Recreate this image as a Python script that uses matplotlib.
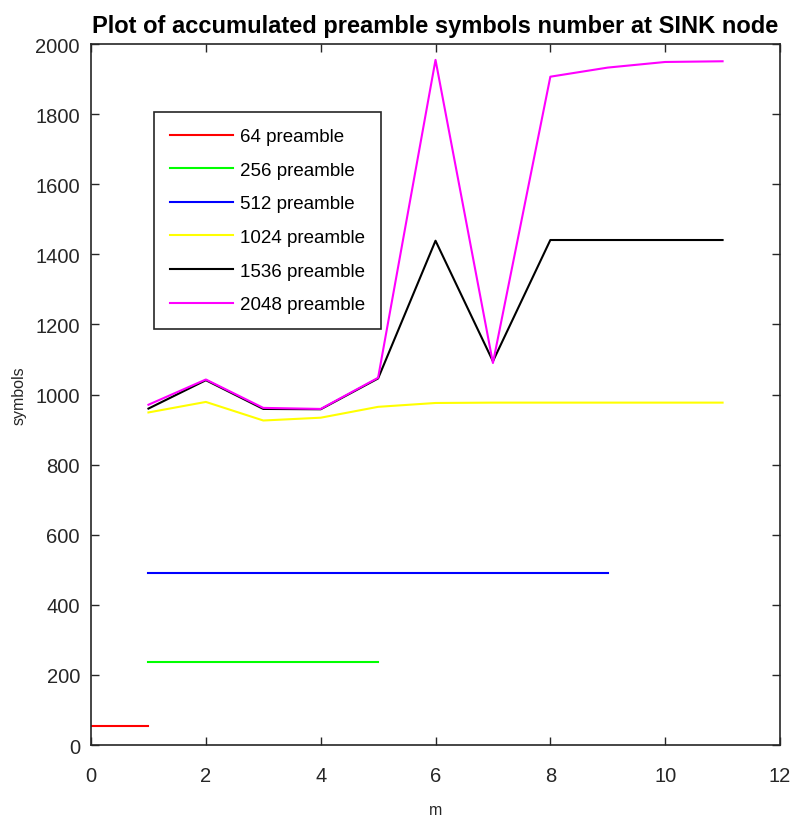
import matplotlib
matplotlib.use('Agg')
import matplotlib.pyplot as plt
from matplotlib import font_manager

# pick a narrow font if one is installed
names = {f.name for f in font_manager.fontManager.ttflist}
narrow = 'Liberation Sans Narrow' if 'Liberation Sans Narrow' in names else 'Liberation Sans'

m_64 = [0, 1]
v_64 = [55, 55]
m_256 = [1, 2, 3, 4, 5]
v_256 = [236, 236, 236, 236, 236]
m_512 = [1, 2, 3, 4, 5, 6, 7, 8, 9]
v_512 = [491, 491, 491, 491, 491, 491, 491, 491, 491]
m_long = [1, 2, 3, 4, 5, 6, 7, 8, 9, 10, 11]
v_1024 = [949, 979, 926, 934, 965, 976, 977, 977, 977, 977, 977]
v_1536 = [960, 1041, 959, 958, 1046, 1439, 1095, 1441, 1441, 1441, 1441]
v_2048 = [971, 1043, 962, 959, 1048, 1955, 1090, 1907, 1933, 1949, 1951]

series = [
    (m_64, v_64, '#ff0000', '64 preamble'),
    (m_256, v_256, '#00ff00', '256 preamble'),
    (m_512, v_512, '#0000ff', '512 preamble'),
    (m_long, v_1024, '#ffff00', '1024 preamble'),
    (m_long, v_1536, '#000000', '1536 preamble'),
    (m_long, v_2048, '#ff00ff', '2048 preamble'),
]

fig = plt.figure(figsize=(7.93, 8.2), dpi=100)
ax = fig.add_axes([0.1148, 0.0902, 0.8688, 0.8548])

for xs, ys, c, lab in series:
    ax.plot(xs, ys, color=c, lw=1.5, label=lab)

ax.set_xlim(0, 12)
ax.set_ylim(0, 2000)
ax.set_xticks(range(0, 13, 2))
ax.set_yticks(range(0, 2001, 200))
ax.tick_params(direction='in', top=True, right=True, length=6, width=1,
               labelsize=14.5, colors='#262626')
ax.tick_params(axis='x', pad=15)
ax.tick_params(axis='y', pad=8)
for lbl in ax.get_xticklabels() + ax.get_yticklabels():
    lbl.set_fontfamily(narrow)
for s in ax.spines.values():
    s.set_color('#262626')
    s.set_linewidth(1.2)

ax.set_xlabel('m', fontsize=11.5, family='Liberation Sans', color='#262626', labelpad=12)
ax.set_ylabel('symbols', fontsize=11.5, family='Liberation Sans', color='#262626', labelpad=6)
ax.set_title('Plot of accumulated preamble symbols number at SINK node',
             fontsize=17, fontweight='bold', family=narrow, pad=9)

leg = ax.legend(loc='upper left', bbox_to_anchor=(0.091, 0.903), borderaxespad=0,
                fancybox=False, edgecolor='#262626', framealpha=1,
                prop={'family': narrow, 'size': 13.5}, handlelength=3.4,
                labelspacing=0.88, borderpad=0.85, handletextpad=0.35)
leg.get_frame().set_linewidth(1.2)

fig.savefig('out.png', dpi=100)
